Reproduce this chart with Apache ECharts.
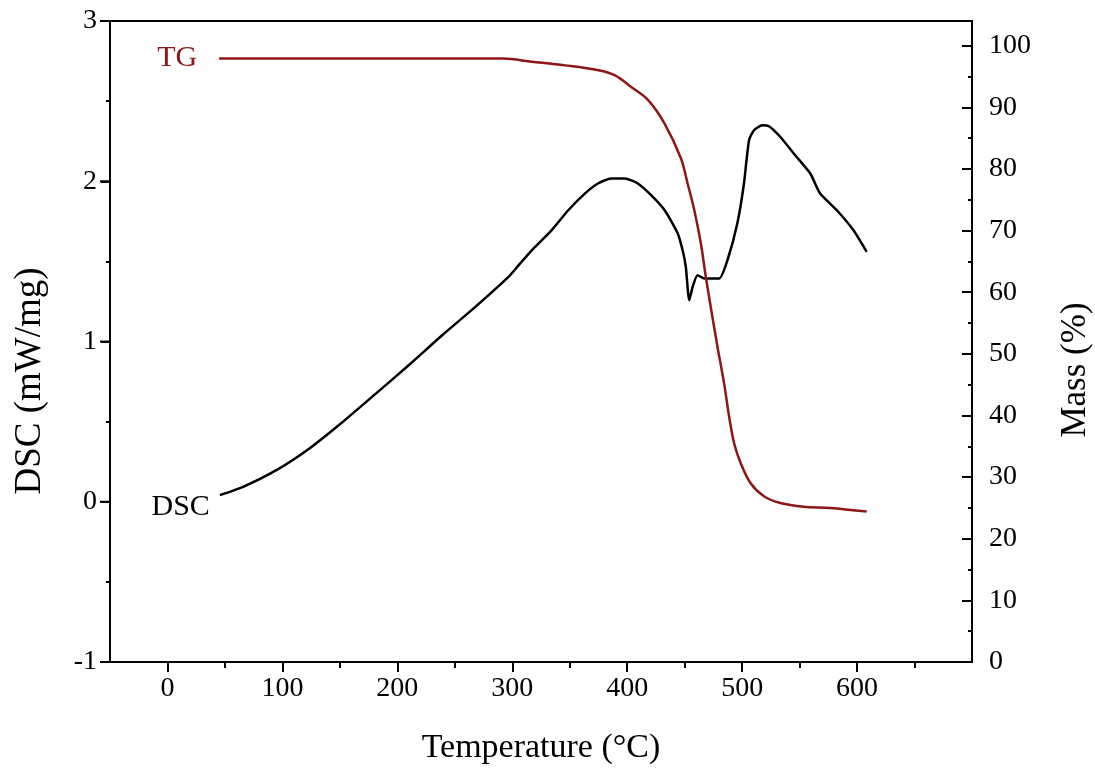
<!DOCTYPE html>
<html>
<head>
<meta charset="utf-8">
<script src="https://cdn.jsdelivr.net/npm/echarts@6/dist/echarts.min.js"></script>
<style>html,body{margin:0;padding:0;background:#fff;}#c{width:1095px;height:782px;}</style>
</head>
<body>
<div id="c"></div>
<script>
// ---- data ----
var dscTemp = [45.6, 65.8, 94.7, 123.5, 152.4, 181.3, 210.1, 239, 267.9, 296.7, 305.4, 319.8, 334.2, 348.7, 363.1, 374.6, 386.1, 397.8, 409.3, 420.8, 432.6, 443.9, 448.5, 451, 454, 456.9, 461.2, 467, 480, 487.2, 495.8, 501.6, 506, 510.3, 517.5, 523.3, 533.3, 544.9, 559.3, 567.9, 582.4, 596.9, 608.4];
var dscVal  = [0.041, 0.093, 0.197, 0.333, 0.498, 0.675, 0.853, 1.039, 1.216, 1.403, 1.475, 1.59, 1.694, 1.819, 1.923, 1.986, 2.017, 2.017, 1.986, 1.913, 1.819, 1.675, 1.56, 1.465, 1.258, 1.34, 1.414, 1.393, 1.393, 1.507, 1.736, 1.986, 2.256, 2.318, 2.349, 2.343, 2.276, 2.173, 2.048, 1.923, 1.819, 1.694, 1.559];
var tgTemp = [45, 150, 250, 292, 317, 346, 375, 389, 403.5, 418, 432.4, 446.8, 452.6, 458.4, 464.1, 468.4, 472.7, 478.5, 484.3, 488.7, 493, 498.7, 507.4, 519, 533.3, 553.6, 576.6, 608.4];
var tgVal  = [97.9, 97.9, 97.9, 97.9, 97.4, 96.8, 96.0, 95.2, 93.3, 91.2, 87.4, 81.7, 77.6, 73.3, 67.9, 62.5, 57.6, 51.2, 45.2, 39.8, 35.5, 32.3, 29.0, 26.9, 25.8, 25.2, 25.0, 24.4];
var xMajorTicks = [0, 100, 200, 300, 400, 500, 600];
var xMinorTicks = [50, 150, 250, 350, 450, 550, 650];
var dscMajorTicks = [-1, 0, 1, 2, 3];
var dscMinorTicks = [-0.5, 0.5, 1.5, 2.5];
var massMajorTicks = [0, 10, 20, 30, 40, 50, 60, 70, 80, 90, 100];
var massMinorTicks = [5, 15, 25, 35, 45, 55, 65, 75, 85, 95];
var seriesNames = ['DSC', 'TG'];
var xTitle = 'Temperature (\u00B0C)';
var yLeftTitle = 'DSC (mW/mg)';
var yRightTitle = 'Mass (%)';

var FONT = '"Liberation Serif", "Times New Roman", serif';
var RED = '#8e1616';

function pairs(xs, ys, labelText, labelOpt) {
  return xs.map(function (x, i) {
    var item = { value: [x, ys[i]] };
    if (i === 0) {
      item.symbolSize = 0;
      item.label = Object.assign({ show: true, formatter: labelText, position: 'left', fontFamily: FONT, fontSize: 30 }, labelOpt);
    }
    return item;
  });
}

function ts() { return { color: '#000', width: 2 }; }
function tickAxis(min, max, pos, ticks, len, inside) {
  return {
    type: 'value', min: min, max: max, position: pos, offset: 0,
    axisLine: { show: false, onZero: false },
    axisTick: { show: true, inside: inside, length: len, lineStyle: ts(), customValues: ticks },
    axisLabel: { show: false },
    splitLine: { show: false }
  };
}
var titles = [
  { type: 'text', x: 541, y: 748, style: { text: xTitle, font: '34px ' + FONT, fill: '#000', textAlign: 'center', textVerticalAlign: 'middle' } },
  { type: 'text', x: 30, y: 381, rotation: Math.PI / 2, style: { text: yLeftTitle, font: '37px ' + FONT, fill: '#000', textAlign: 'center', textVerticalAlign: 'middle' } },
  { type: 'text', x: 1076, y: 370, rotation: Math.PI / 2, style: { text: yRightTitle, font: '35px ' + FONT, fill: '#000', textAlign: 'center', textVerticalAlign: 'middle' } }
];
var chart = echarts.init(document.getElementById('c'), null, { renderer: 'canvas' });
chart.setOption({
  backgroundColor: '#fff',
  animation: false,
  grid: { left: 110, right: 123, top: 21, bottom: 120, show: true, borderColor: '#000', borderWidth: 2 },
  xAxis: [{
    type: 'value', min: -50, max: 700, position: 'bottom',
    axisLine: { show: true, onZero: false, lineStyle: { color: '#000', width: 2 } },
    axisTick: { show: true, length: 10, lineStyle: ts(), customValues: xMajorTicks },
    axisLabel: { customValues: xMajorTicks, fontFamily: FONT, fontSize: 28, color: '#000', margin: 13 },
    splitLine: { show: false }
  }, tickAxis(-50, 700, 'bottom', xMinorTicks, 6, false)],
  yAxis: [{
    type: 'value', min: -1, max: 3, interval: 1, position: 'left',
    axisLine: { show: true, onZero: false, lineStyle: { color: '#000', width: 2 } },
    axisTick: { show: true, length: 9, lineStyle: ts() },
    axisLabel: { fontFamily: FONT, fontSize: 28, color: '#000', margin: 13 },
    splitLine: { show: false }
  }, {
    type: 'value', min: 0, max: 104, position: 'right', offset: 0,
    axisLine: { show: true, onZero: false, lineStyle: { color: '#000', width: 2 } },
    axisTick: { show: true, inside: true, length: 10, lineStyle: ts(), customValues: massMajorTicks },
    axisLabel: { customValues: massMajorTicks, fontFamily: FONT, fontSize: 28, color: '#000', margin: 17 },
    splitLine: { show: false }
  },
  tickAxis(0, 104, 'right', massMinorTicks, 4, true),
  tickAxis(-1, 3, 'left', dscMinorTicks, 4, false)],
  series: [{
    name: seriesNames[0], type: 'line', xAxisIndex: 0, yAxisIndex: 0,
    data: pairs(dscTemp, dscVal, seriesNames[0], { color: '#000', distance: 10, offset: [0, 12] }),
    showSymbol: true, symbolSize: 0, symbol: 'circle',
    lineStyle: { color: '#000', width: 2.5 }, itemStyle: { color: '#000' },
    smooth: 0.2
  }, {
    name: seriesNames[1], type: 'line', xAxisIndex: 0, yAxisIndex: 1,
    data: pairs(tgTemp, tgVal, seriesNames[1], { color: RED, distance: 22 }),
    showSymbol: true, symbolSize: 0, symbol: 'circle',
    lineStyle: { color: RED, width: 2.5 }, itemStyle: { color: RED },
    smooth: 0.35
  }],
  graphic: titles
});

// left-axis major ticks, placed through the library's own scales, on a top layer
var xEdge = chart.convertToPixel({ xAxisIndex: 0 }, -50);
var tickGraphics = dscMajorTicks.map(function (v) {
  var y = chart.convertToPixel({ yAxisIndex: 0 }, v);
  return { type: 'rect', zlevel: 5, z: 100, silent: true, shape: { x: xEdge - 10, y: y - 1, width: 10, height: 2 }, style: { fill: '#000' } };
});
chart.setOption({ graphic: titles.concat(tickGraphics) }, { replaceMerge: ['graphic'] });
</script>
</body>
</html>
